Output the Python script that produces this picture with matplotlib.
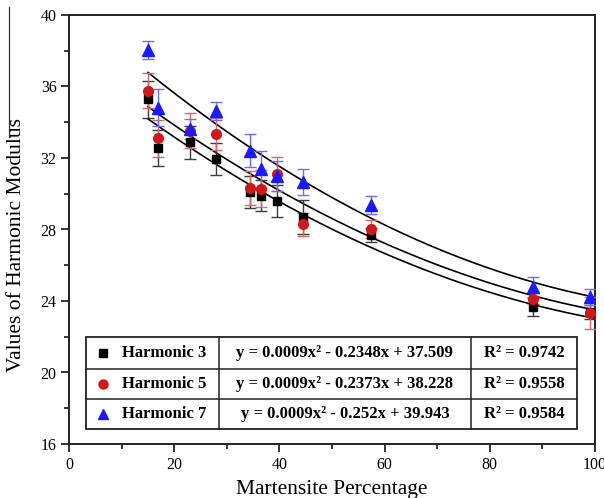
import numpy as np
import matplotlib
matplotlib.use("Agg")
import matplotlib.pyplot as plt
from matplotlib.lines import Line2D
from matplotlib.patches import Rectangle

plt.rcParams['font.family'] = ['Liberation Serif', 'DejaVu Serif']

# ---------------- data ----------------
martensite = [15, 17, 23, 28, 34.5, 36.5, 39.5, 44.5, 57.5, 88.3, 99]

h3_values = [35.28, 32.56, 32.88, 31.93, 30.08, 29.89, 29.59, 28.68, 27.69, 23.68, 23.40]
h3_errors = [1.03, 1.00, 0.91, 0.90, 0.89, 0.87, 0.91, 0.95, 0.40, 0.50, 0.40]

h5_values = [35.77, 33.10, 33.53, 33.33, 30.32, 30.28, 31.09, 28.29, 28.01, 24.13, 23.31]
h5_errors = [0.98, 1.03, 0.98, 0.89, 0.93, 1.03, 0.94, 0.65, 0.50, 0.30, 0.89]

h7_values = [38.04, 34.81, 33.62, 34.63, 32.41, 31.37, 31.01, 30.67, 29.37, 24.78, 24.22]
h7_errors = [0.49, 1.03, 0.54, 0.49, 0.92, 1.03, 0.84, 0.72, 0.50, 0.56, 0.45]

# quadratic trend-line coefficients (a, b, c) as drawn in the chart
trend_h3 = [0.0009, -0.2348, 37.509]
trend_h5 = [0.0009, -0.2373, 38.228]
trend_h7 = [0.00104, -0.2676, 40.57]
trend_range = [15, 100]

series_names = ["Harmonic 3", "Harmonic 5", "Harmonic 7"]
equations = ["y = 0.0009x\u00b2 - 0.2348x + 37.509",
             "y = 0.0009x\u00b2 - 0.2373x + 38.228",
             "y = 0.0009x\u00b2 - 0.252x + 39.943"]
r_squared = ["R\u00b2 = 0.9742", "R\u00b2 = 0.9558", "R\u00b2 = 0.9584"]

x_ticks = [0, 20, 40, 60, 80, 100]
y_ticks = [16, 20, 24, 28, 32, 36, 40]

# ---------------- figure ----------------
fig = plt.figure(figsize=(6.04, 4.98), dpi=100)
ax = fig.add_axes([69/604, 1-444/498, (595-69)/604, (444-15)/498])

styles = [
    dict(marker='s', color='black', ecolor='#3a3a3a', ms=6),
    dict(marker='o', color='#d01818', ecolor='#e06666', ms=7),
    dict(marker='^', color='#1a1aff', ecolor='#6a6aff', ms=8),
]
vals = [h3_values, h5_values, h7_values]
errs = [h3_errors, h5_errors, h7_errors]
trends = [trend_h3, trend_h5, trend_h7]

xfit = np.linspace(trend_range[0], trend_range[1], 200)
for coef in trends:
    ax.plot(xfit, np.polyval(coef, xfit), color='black', lw=1.2, zorder=2)

for v, e, st in zip(vals, errs, styles):
    ax.errorbar(martensite, v, yerr=e, fmt=st['marker'], color=st['color'],
                ecolor=st['ecolor'], elinewidth=1.0, capsize=4, capthick=1.0,
                ms=st['ms'], mec=st['color'], zorder=3, linestyle='none')

ax.set_xlim(0, 100)
ax.set_ylim(16, 40)
ax.set_xticks(x_ticks)
ax.set_yticks(y_ticks)
ax.set_xticks(np.arange(10, 100, 20), minor=True)
ax.set_yticks(np.arange(18, 40, 4), minor=True)
ax.tick_params(which='major', direction='out', length=6, width=1.1, labelsize=11.5,
               top=False, right=False, pad=3)
ax.tick_params(which='minor', direction='out', length=3.5, width=1.1,
               top=False, right=False)
for s in ax.spines.values():
    s.set_linewidth(1.4)
    s.set_color('#222222')

# ---------------- legend table ----------------
T = ax.transAxes
left, right = 0.0318, 0.9663
c1, c2 = 0.285, 0.764
rows_y = [0.2487, 0.1748, 0.1042, 0.0343]
ax.add_patch(Rectangle((left, rows_y[-1]), right-left, rows_y[0]-rows_y[-1],
                       transform=T, fill=True, facecolor='white',
                       edgecolor='#222222', lw=1.3, zorder=5))
for yy in rows_y[1:-1]:
    ax.add_line(Line2D([left, right], [yy, yy], transform=T, color='#222222', lw=1.1, zorder=6))
for xx in (c1, c2):
    ax.add_line(Line2D([xx, xx], [rows_y[-1], rows_y[0]], transform=T, color='#222222', lw=1.1, zorder=6))

for i in range(3):
    yc = (rows_y[i] + rows_y[i+1]) / 2
    st = styles[i]
    ax.plot([0.0652], [yc], marker=st['marker'], color=st['color'], ms=st['ms']-0.5,
            transform=T, zorder=7, clip_on=False, linestyle='none')
    ax.text(0.1013, yc, series_names[i], transform=T, fontsize=12, fontweight='bold',
            ha='left', va='center', zorder=7)
    ax.text((c1+c2)/2, yc, equations[i], transform=T, fontsize=12, fontweight='bold',
            ha='center', va='center', zorder=7)
    ax.text((c2+right)/2, yc, r_squared[i], transform=T, fontsize=12, fontweight='bold',
            ha='center', va='center', zorder=7)

# ---------------- labels ----------------
fig.text(332/604, 1-489/498, "Martensite Percentage", fontsize=15.5, ha='center', va='center')
fig.text(17/604, 1-245/498, "Values of Harmonic Modulus", fontsize=15.5, rotation=90,
         ha='center', va='center')
fig.add_artist(Line2D([8.5/604, 8.5/604], [1-7/498, 1-137/498], color='#333333', lw=0.9))

fig.savefig("out.png", dpi=100)
